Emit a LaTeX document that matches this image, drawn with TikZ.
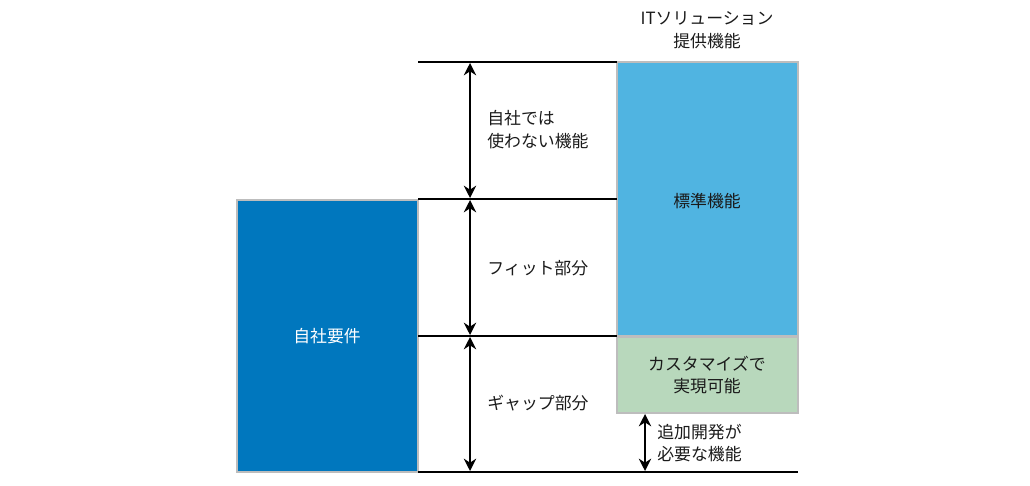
\documentclass[tikz,border=0pt]{standalone}
\usepackage{fontspec}
\setmainfont{Noto Sans CJK JP}
\usetikzlibrary{arrows.meta}
\definecolor{dblue}{HTML}{0077BE}
\definecolor{lblue}{HTML}{50B4E1}
\definecolor{lgreen}{HTML}{B8D8BC}
\definecolor{bord}{HTML}{BDBDBD}
\definecolor{txt}{HTML}{1A1A1A}
\tikzset{
  box/.style={draw=bord,line width=1.2pt},
  lvl/.style={line width=1.3pt,black},
  dim/.style={line width=1.3pt,{Stealth[length=7pt,width=7pt]}-{Stealth[length=7pt,width=7pt]}},
  lbl/.style={font=\fontsize{9.6pt}{13pt}\selectfont,text=txt,align=left,anchor=west,inner sep=0},
  ctr/.style={font=\fontsize{9.6pt}{13pt}\selectfont,align=center,inner sep=0}
}
\begin{document}
\begin{tikzpicture}[x=0.02cm,y=-0.02cm]
\useasboundingbox (0,0) rectangle (1030,486);
\draw[box,fill=dblue] (237,200) rectangle (418,472);
\draw[box,fill=lblue] (617,62) rectangle (798,336);
\draw[box,fill=lgreen] (617,337) rectangle (798,413);
\coordinate (a1) at (418,62); \coordinate (b1) at (617,62);
\coordinate (a2) at (418,199); \coordinate (b2) at (617,199);
\coordinate (a3) at (418,336); \coordinate (b3) at (617,336);
\coordinate (a4) at (418,472); \coordinate (b4) at (798,472);
\draw[lvl] (a1)--(b1); \draw[lvl] (a2)--(b2); \draw[lvl] (a3)--(b3); \draw[lvl] (a4)--(b4);
\coordinate (p1) at (470,63); \coordinate (p2) at (470,198);
\coordinate (p3) at (470,200); \coordinate (p4) at (470,335);
\coordinate (p5) at (470,337); \coordinate (p6) at (470,471);
\coordinate (q1) at (645,414); \coordinate (q2) at (645,471);
\draw[dim] (p1)--(p2); \draw[dim] (p3)--(p4); \draw[dim] (p5)--(p6); \draw[dim] (q1)--(q2);
\node[lbl] (t1) at (487,130) {自社では\\使わない機能};
\node[lbl] (t2) at (487,268) {フィット部分};
\node[lbl] (t3) at (487,403) {ギャップ部分};
\node[lbl] (t4) at (657,443) {追加開発が\\必要な機能};
\node[ctr,text=txt] (t5) at (707,30) {ITソリューション\\提供機能};
\node[ctr,text=txt] (t6) at (707,201) {標準機能};
\node[ctr,text=white] (t7) at (327,336) {自社要件};
\node[ctr,text=txt] (t8) at (707,375) {カスタマイズで\\実現可能};
\end{tikzpicture}
\end{document}
